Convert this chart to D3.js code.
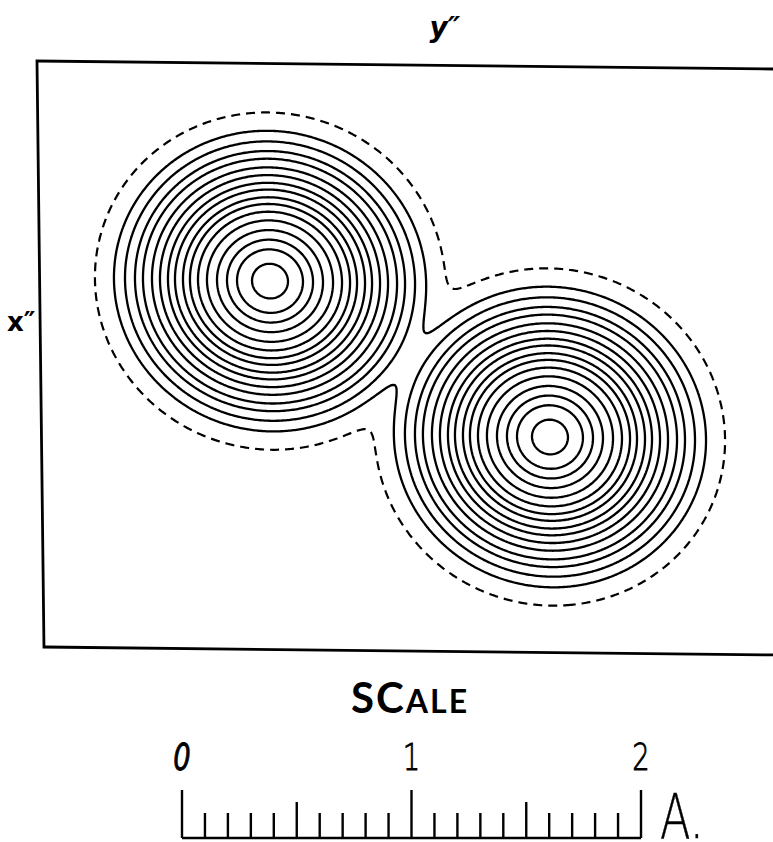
<!DOCTYPE html>
<html>
<head>
<meta charset="utf-8">
<script src="https://cdn.jsdelivr.net/npm/d3@7/dist/d3.min.js"></script>
<style>
  html, body { margin: 0; padding: 0; background: #fff; }
  svg { display: block; }
</style>
</head>
<body>
<svg id="chart" width="773" height="842"></svg>
<script>
// ---- Map data -------------------------------------------------------------
// Atom sites in the map plane (Å); y'' runs across the page, x'' runs down.
const atomY = [1.004, 2.216];
const atomX = [0.948, 1.614];
const atomPeak = [100, 100];
// Gaussian width of each site along y'' and along x'' (Å)
const sigmaY = [0.1765, 0.1765];
const sigmaX = [0.1700, 0.1700];

// Contour levels (peak density = 100)
const solidLevels = [90.6, 71.8, 56.9, 42.5, 29.8, 20.6, 14.2, 9.95, 6.39,
                     4.19, 2.50, 1.434, 0.732, 0.387, 0.165, 0.060];
const dashedLevels = [0.0088];

// Extent of the mapped area (Å)
const mapY = [0, 3.268];
const mapX = [0, 2.553];

// Length scale bar (Å)
const barDomain = [0, 2];
const barLabels = [0, 1, 2];
const barHalfMarks = [0.5, 1.5];

// ---- Layout ---------------------------------------------------------------
const svg = d3.select("#chart");
const plotW = 750, plotH = 586;

const yScale = d3.scaleLinear().domain(mapY).range([0, plotW]);   // across
const xScale = d3.scaleLinear().domain(mapX).range([0, plotH]);   // down

// the printed frame sits a little askew on the page
const plot = svg.append("g")
  .attr("transform", "matrix(1,0.0109,0.0119,1,37,61)");

// ---- Density grid -----------------------------------------------------------
const cell = 1.5;
const nx = Math.ceil(plotW / cell) + 1;
const ny = Math.ceil(plotH / cell) + 1;
const values = new Float64Array(nx * ny);
for (let j = 0; j < ny; j++) {
  const xv = xScale.invert(j * cell);
  for (let i = 0; i < nx; i++) {
    const yv = yScale.invert(i * cell);
    let s = 0;
    for (let k = 0; k < atomY.length; k++) {
      const dy = (yv - atomY[k]) / sigmaY[k];
      const dx = (xv - atomX[k]) / sigmaX[k];
      s += atomPeak[k] * Math.exp(-0.5 * (dx * dx + dy * dy));
    }
    values[j * nx + i] = s;
  }
}

const gridPath = d3.geoPath(
  d3.geoTransform({
    point(x, y) { this.stream.point((x - 0.5) * cell, (y - 0.5) * cell); }
  })
);

const solid = d3.contours().size([nx, ny]).thresholds(solidLevels)(values);
const dashed = d3.contours().size([nx, ny]).thresholds(dashedLevels)(values);

plot.append("g")
  .selectAll("path")
  .data(solid)
  .join("path")
  .attr("d", gridPath)
  .attr("fill", "none")
  .attr("stroke", "#000")
  .attr("stroke-width", 2.3)
  .attr("stroke-linejoin", "round");

plot.append("g")
  .selectAll("path")
  .data(dashed)
  .join("path")
  .attr("d", gridPath)
  .attr("fill", "none")
  .attr("stroke", "#000")
  .attr("stroke-width", 2.2)
  .attr("stroke-dasharray", "9,6");

// frame
plot.append("rect")
  .attr("x", yScale(mapY[0]))
  .attr("y", xScale(mapX[0]))
  .attr("width", yScale(mapY[1]) - yScale(mapY[0]))
  .attr("height", xScale(mapX[1]) - xScale(mapX[0]))
  .attr("fill", "none")
  .attr("stroke", "#000")
  .attr("stroke-width", 2.8);

// axis names
svg.append("text")
  .attr("x", 445).attr("y", 37)
  .attr("text-anchor", "middle")
  .attr("font-family", "DejaVu Sans")
  .attr("font-style", "italic")
  .attr("font-weight", "bold")
  .attr("font-size", 28)
  .text("y\u2033");

svg.append("text")
  .attr("x", 7).attr("y", 331)
  .attr("font-family", "DejaVu Sans")
  .attr("font-weight", "bold")
  .attr("font-size", 26)
  .text("x\u2033");

// ---- Scale bar --------------------------------------------------------------
const bar = d3.scaleLinear().domain(barDomain).range([182, 641]);
const barBase = 838;
const sb = svg.append("g");

const title = sb.append("text")
  .attr("x", 410).attr("y", 713)
  .attr("text-anchor", "middle")
  .attr("font-family", "Lato")
  .attr("font-weight", "bold")
  .attr("letter-spacing", 2);
title.append("tspan").attr("font-size", 42).text("S");
title.append("tspan").attr("font-size", 42).text("C");
title.append("tspan").attr("font-size", 32).text("ALE");

sb.append("line")
  .attr("x1", bar(barDomain[0])).attr("x2", bar(barDomain[1]))
  .attr("y1", barBase).attr("y2", barBase)
  .attr("stroke", "#000").attr("stroke-width", 2.4);

sb.selectAll("line.tick")
  .data(bar.ticks(20))
  .join("line")
  .attr("class", "tick")
  .attr("x1", d => bar(d)).attr("x2", d => bar(d))
  .attr("y1", barBase)
  .attr("y2", d => {
    const r = Math.round(d * 10) / 10;
    if (barLabels.includes(r)) return barBase - 48;
    if (barHalfMarks.includes(r)) return barBase - 36;
    return barBase - 25;
  })
  .attr("stroke", "#000").attr("stroke-width", 2.4);

sb.selectAll("text.num")
  .data(barLabels)
  .join("text")
  .attr("class", "num")
  .attr("transform", d => `translate(${bar(d)},770) scale(0.72,1)`)
  .attr("text-anchor", "middle")
  .attr("font-family", "DejaVu Sans")
  .attr("font-weight", 200)
  .attr("font-style", d => d === 0 ? "italic" : "normal")
  .attr("font-size", 38)
  .attr("stroke", "#000")
  .attr("stroke-width", 0.9)
  .text(d => d);

sb.append("text")
  .attr("transform", "translate(660,838) scale(0.72,1)")
  .attr("font-family", "DejaVu Sans")
  .attr("font-weight", 200)
  .attr("font-size", 62)
  .attr("stroke", "#000")
  .attr("stroke-width", 0.5)
  .text("A.");
</script>
</body>
</html>
